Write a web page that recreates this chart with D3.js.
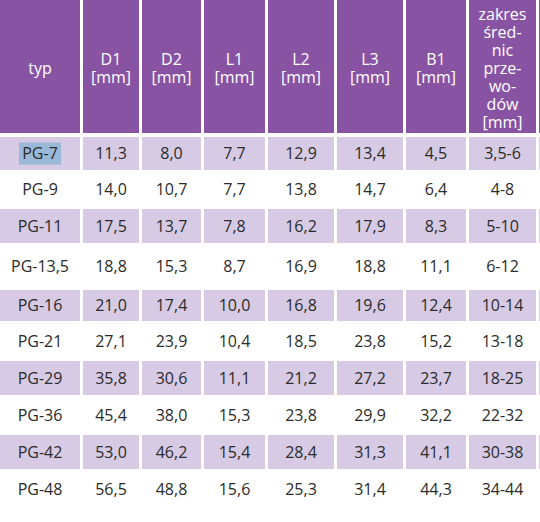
<!DOCTYPE html>
<html><head><meta charset="utf-8">
<script src="https://cdn.jsdelivr.net/npm/d3@7"></script>
<style>body{margin:0;background:#fff}text{font-family:"Open Sans",sans-serif}</style>
</head><body><div id="chart"></div>
<script>
const headers = [["typ"],["D1","[mm]"],["D2","[mm]"],["L1","[mm]"],["L2","[mm]"],["L3","[mm]"],["B1","[mm]"],
  ["zakres","śred-","nic","prze-","wo-","dów","[mm]"]];
const types = ["PG-7","PG-9","PG-11","PG-13,5","PG-16","PG-21","PG-29","PG-36","PG-42","PG-48"];
const d1 = ["11,3","14,0","17,5","18,8","21,0","27,1","35,8","45,4","53,0","56,5"];
const d2 = ["8,0","10,7","13,7","15,3","17,4","23,9","30,6","38,0","46,2","48,8"];
const l1 = ["7,7","7,7","7,8","8,7","10,0","10,4","11,1","15,3","15,4","15,6"];
const l2 = ["12,9","13,8","16,2","16,9","16,8","18,5","21,2","23,8","28,4","25,3"];
const l3 = ["13,4","14,7","17,9","18,8","19,6","23,8","27,2","29,9","31,3","31,4"];
const b1 = ["4,5","6,4","8,3","11,1","12,4","15,2","23,7","32,2","41,1","44,3"];
const range = ["3,5-6","4-8","5-10","6-12","10-14","13-18","18-25","22-32","30-38","34-44"];

const columns = [types, d1, d2, l1, l2, l3, b1, range];
const colEdges = [0, 83, 142, 204, 268, 337, 406, 469, 539];
const rowEdges = [136, 172, 208, 245, 289, 323, 360, 397, 434, 471, 509];

const width = 540, height = 522;
const svg = d3.select("#chart").append("svg").attr("width", width).attr("height", height);

const x = i => colEdges[i];
const y = i => rowEdges[i];

// header
const hdr = svg.append("g");
headers.forEach((h, i) => {
  hdr.append("rect").attr("x", x(i)).attr("y", 0)
    .attr("width", x(i + 1) - x(i) - 3).attr("height", 133).attr("fill", "#8953a3");
  const cx = (x(i) + x(i + 1) - 3) / 2;
  const lh = 18, top = 68 - (h.length - 1) * lh / 2;
  h.forEach((t, k) => hdr.append("text").attr("x", cx).attr("y", top + k * lh)
    .attr("dy", "0.35em").attr("text-anchor", "middle").attr("fill", "#fff")
    .attr("font-size", 16).text(t));
});
// sliver of next column
svg.append("rect").attr("x", 539).attr("y", 0).attr("width", 4).attr("height", 133).attr("fill", "#8953a3");

// body
types.forEach((t, r) => {
  const shaded = r % 2 === 0;
  columns.forEach((col, c) => {
    const x0 = x(c), w = x(c + 1) - x(c) - 3;
    const y0 = y(r) + 1, hh = y(r + 1) - y(r) - 3;
    if (shaded) svg.append("rect").attr("x", x0).attr("y", y0).attr("width", w).attr("height", hh).attr("fill", "#d6cae4");
    const cx = x0 + w / 2, cy = y0 + hh / 2;
    if (r === 0 && c === 0) {
      svg.append("rect").attr("x", cx - 21).attr("y", cy - 11).attr("width", 42).attr("height", 22).attr("fill", "#9ab8d8");
    }
    svg.append("text").attr("x", cx).attr("y", cy).attr("dy", "0.35em")
      .attr("text-anchor", "middle").attr("fill", "#2b2b2b").attr("font-size", 16).text(col[r]);
  });
  if (shaded) svg.append("rect").attr("x", 539).attr("y", y(r) + 1).attr("width", 4).attr("height", y(r + 1) - y(r) - 3).attr("fill", "#d6cae4");
});
</script></body></html>
